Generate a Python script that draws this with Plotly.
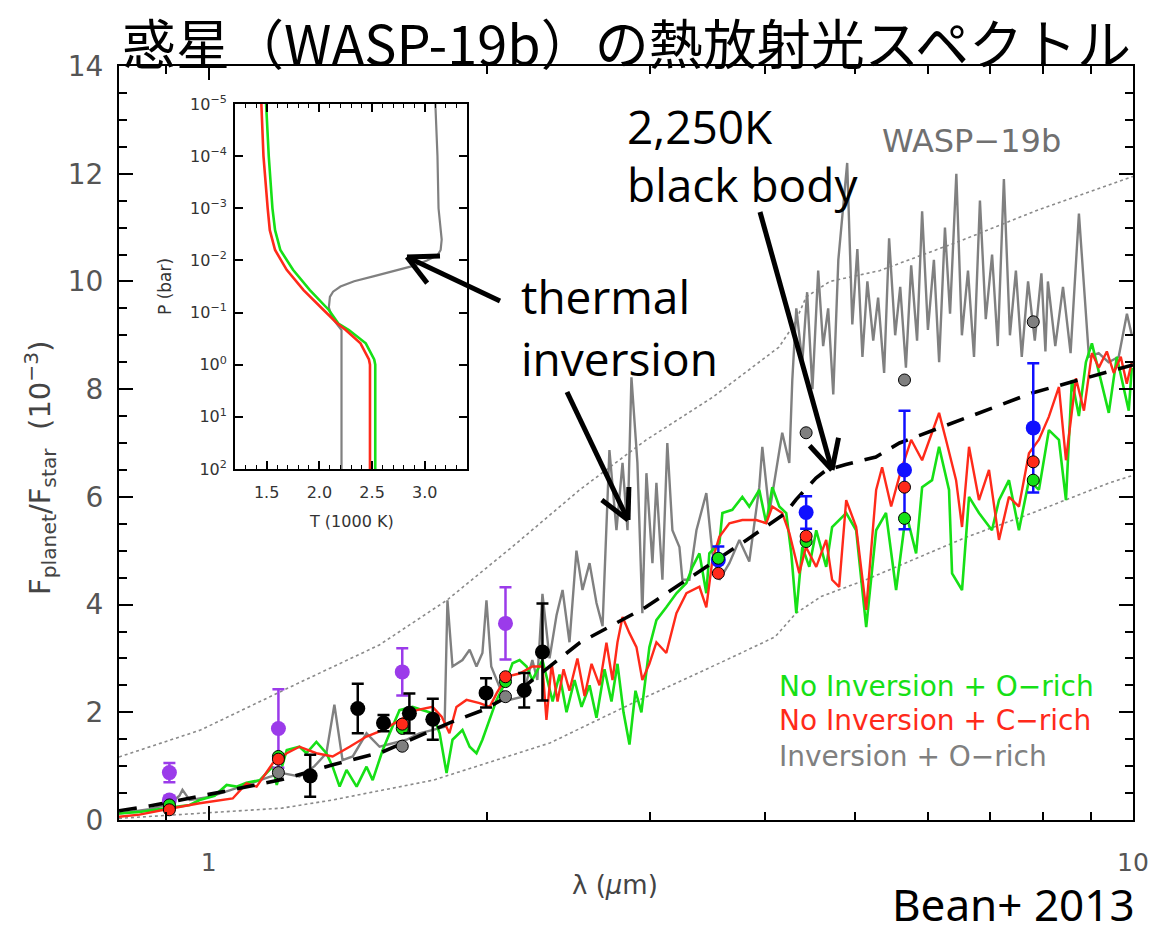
import math
import plotly.graph_objects as go

# ---------------- model spectra: wavelength (micron), Fp/Fs (1e-3) ----------------
wl_green = [0.800, 0.842, 0.901, 0.954, 0.978, 1.015, 1.046, 1.072, 1.099, 1.136, 1.173, 1.185,
            1.215, 1.254, 1.276, 1.308, 1.341, 1.362, 1.386, 1.410, 1.446, 1.482, 1.505, 1.543,
            1.570, 1.609, 1.662, 1.704, 1.747, 1.778, 1.809, 1.836, 1.882, 1.916, 1.949, 1.978,
            2.014, 2.049, 2.100, 2.132, 2.170, 2.208, 2.240, 2.297, 2.356, 2.397, 2.439, 2.488,
            2.532, 2.583, 2.628, 2.681, 2.728, 2.769, 2.811, 2.853, 2.896, 2.939, 2.998, 3.051,
            3.127, 3.207, 3.288, 3.338, 3.396, 3.455, 3.481, 3.569, 3.596, 3.686, 3.779, 3.845,
            3.942, 4.011, 4.072, 4.143, 4.216, 4.269, 4.323, 4.388, 4.465, 4.543, 4.657, 4.726,
            4.895, 5.018, 5.145, 5.274, 5.405, 5.543, 5.682, 5.826, 5.914, 6.062, 6.169, 6.324,
            6.372, 6.532, 6.647, 6.814, 7.038, 7.162, 7.342, 7.527, 7.717, 7.911, 8.110, 8.315,
            8.462, 8.588, 8.739, 8.893, 9.027, 9.184, 9.415, 9.604, 9.775, 9.895, 9.970]
fp_green = [0.12, 0.15, 0.22, 0.28, 0.37, 0.45, 0.65, 0.62, 0.69, 0.74, 0.99, 0.65,
            1.30, 1.36, 1.24, 1.45, 1.24, 0.99, 0.62, 0.93, 0.62, 0.99, 0.74, 1.30,
            1.61, 2.04, 2.10, 2.04, 1.98, 1.61, 0.87, 1.49, 1.67, 1.36, 1.24, 1.49,
            1.86, 2.23, 2.60, 2.91, 2.97, 2.85, 2.60, 2.97, 2.20, 2.70, 2.00, 2.60,
            2.10, 2.50, 1.90, 2.80, 2.20, 2.90, 2.00, 1.40, 2.40, 2.00, 3.21, 3.71,
            3.95, 4.21, 4.40, 4.70, 4.95, 4.21, 4.95, 5.14, 5.70, 5.76, 6.00, 5.82,
            6.13, 5.51, 6.18, 5.82, 5.70, 4.95, 3.84, 5.07, 4.70, 5.38, 4.70, 5.44,
            5.70, 5.38, 3.58, 5.38, 5.70, 4.27, 5.70, 4.95, 6.18, 6.31, 6.93, 6.13,
            4.58, 4.27, 6.00, 5.70, 5.38, 5.94, 6.31, 5.38, 6.31, 6.13, 7.24, 7.06,
            5.94, 8.17, 7.50, 8.50, 8.85, 8.30, 7.56, 8.60, 8.00, 7.60, 8.40]

wl_red = [0.800, 0.842, 0.901, 0.978, 1.062, 1.099, 1.127, 1.173, 1.215, 1.254, 1.308, 1.362,
          1.421, 1.482, 1.543, 1.609, 1.679, 1.747, 1.787, 1.822, 1.854, 1.901, 1.964, 2.014,
          2.049, 2.100, 2.170, 2.240, 2.297, 2.320, 2.350, 2.385, 2.421, 2.457, 2.506, 2.551,
          2.596, 2.648, 2.694, 2.735, 2.769, 2.804, 2.853, 2.903, 2.946, 2.998, 3.051, 3.127,
          3.207, 3.288, 3.396, 3.455, 3.508, 3.569, 3.659, 3.779, 3.913, 4.011, 4.072, 4.174,
          4.248, 4.355, 4.428, 4.543, 4.657, 4.726, 4.810, 4.895, 5.018, 5.145, 5.274, 5.353,
          5.475, 5.613, 5.755, 5.914, 6.062, 6.169, 6.276, 6.436, 6.532, 6.647, 6.814, 6.986,
          7.162, 7.342, 7.527, 7.717, 7.911, 8.110, 8.315, 8.462, 8.675, 8.850, 9.027, 9.184,
          9.369, 9.532, 9.700, 9.846, 9.970]
fp_red = [0.06, 0.10, 0.20, 0.31, 0.40, 0.68, 0.62, 1.05, 1.24, 1.36, 1.24, 1.18,
          1.36, 1.55, 1.67, 1.86, 2.04, 2.10, 1.92, 1.61, 2.10, 2.23, 2.17, 2.10,
          2.35, 2.66, 2.72, 2.85, 2.85, 1.86, 2.90, 2.20, 2.80, 2.40, 3.00, 2.30,
          2.90, 2.50, 3.29, 2.60, 3.30, 3.77, 3.47, 3.21, 2.60, 2.90, 3.30, 3.10,
          3.84, 4.21, 4.33, 3.95, 4.83, 5.26, 5.51, 5.57, 5.57, 5.51, 5.82, 5.70,
          5.33, 4.58, 5.07, 4.70, 5.20, 4.46, 4.33, 5.94, 5.44, 3.90, 6.13, 6.55,
          5.82, 6.50, 7.06, 6.68, 7.19, 7.56, 7.06, 6.31, 5.44, 6.93, 5.94, 6.50,
          5.20, 6.00, 5.82, 6.81, 7.06, 7.49, 8.04, 6.68, 8.20, 7.60, 8.67, 8.40,
          8.70, 8.30, 8.60, 8.10, 8.50]

wl_gray = [0.800, 0.863, 0.907, 0.930, 0.937, 0.954, 0.978, 1.002, 1.054, 1.107, 1.164, 1.202,
           1.254, 1.302, 1.341, 1.368, 1.396, 1.432, 1.482, 1.531, 1.582, 1.637, 1.691, 1.747,
           1.800, 1.813, 1.836, 1.882, 1.916, 1.949, 1.978, 1.998, 2.022, 2.064, 2.116, 2.186,
           2.240, 2.268, 2.297, 2.338, 2.379, 2.415, 2.457, 2.500, 2.538, 2.583, 2.628, 2.668,
           2.714, 2.762, 2.804, 2.839, 2.867, 2.910, 2.946, 2.976, 3.021, 3.051, 3.097, 3.135,
           3.175, 3.231, 3.255, 3.312, 3.371, 3.455, 3.508, 3.569, 3.659, 3.751, 3.845, 3.942,
           3.972, 4.042, 4.174, 4.248, 4.280, 4.323, 4.388, 4.441, 4.500, 4.565, 4.622, 4.680,
           4.740, 4.800, 4.907, 4.970, 5.033, 5.097, 5.160, 5.236, 5.300, 5.380, 5.447, 5.530,
           5.600, 5.680, 5.755, 5.840, 5.914, 6.000, 6.090, 6.170, 6.260, 6.340, 6.440, 6.530,
           6.630, 6.730, 6.830, 6.930, 7.040, 7.140, 7.250, 7.360, 7.470, 7.580, 7.700, 7.830,
           7.960, 8.040, 8.090, 8.240, 8.400, 8.560, 8.740, 8.960, 9.180, 9.410, 9.650, 9.850,
           9.970]
fp_gray = [0.12, 0.20, 0.30, 0.45, 0.56, 0.37, 0.40, 0.43, 0.55, 0.68, 0.80, 0.87,
           0.81, 1.00, 1.24, 2.14, 1.11, 1.18, 1.61, 1.36, 1.43, 1.49, 1.61, 1.67,
           1.73, 4.08, 2.85, 2.97, 3.16, 2.85, 3.10, 4.08, 2.85, 2.47, 2.23, 2.29,
           2.97, 2.60, 4.20, 3.00, 3.80, 4.27, 3.30, 5.00, 4.27, 4.77, 4.03, 3.60,
           6.87, 5.38, 6.63, 5.38, 8.22, 6.63, 3.84, 6.44, 4.77, 6.26, 4.46, 7.00,
           5.38, 5.07, 4.46, 4.46, 5.38, 6.07, 4.95, 4.46, 4.77, 5.20, 4.80, 6.18,
           6.93, 5.70, 7.19, 6.63, 8.17, 9.50, 8.50, 9.80, 8.00, 10.2, 8.80, 9.50,
           7.90, 10.4, 12.2, 9.20, 10.6, 8.60, 10.0, 8.90, 9.70, 8.30, 10.8, 9.00,
           9.90, 8.40, 10.3, 8.90, 11.3, 9.10, 10.4, 8.50, 11.0, 9.40, 12.0, 9.00,
           10.2, 8.60, 11.5, 9.30, 10.5, 8.80, 11.9, 9.00, 10.2, 8.60, 10.0, 8.90,
           10.15, 8.70, 10.0, 8.80, 9.90, 8.67, 11.26, 8.60, 8.67, 8.50, 8.60, 9.40,
           9.00]

# 2,250 K black body and the two dotted envelopes
wl_bb = [0.80, 0.863, 1.06, 1.20, 1.36, 1.54, 1.82, 1.98, 2.17, 2.52, 2.97, 3.39, 3.82,
         4.21, 4.32, 4.54, 4.66, 4.89, 5.27, 5.59, 6.60, 7.78, 10.0]
fp_bb = [0.17, 0.26, 0.56, 0.75, 1.02, 1.26, 1.80, 2.04, 2.41, 3.29, 3.95, 4.60, 5.20,
         5.70, 5.95, 6.35, 6.50, 6.60, 6.74, 7.00, 7.46, 7.93, 8.45]

wl_hi = [0.80, 0.98, 1.25, 1.53, 1.81, 2.13, 2.52, 2.97, 3.51, 4.14, 4.30, 4.43, 4.70, 5.32,
         6.50, 7.90, 10.0]
fp_hi = [1.17, 1.67, 2.54, 3.25, 4.08, 5.07, 6.13, 7.05, 7.85, 8.78, 9.20, 9.71, 10.0, 10.2,
         10.75, 11.33, 11.95]

wl_lo = [0.80, 1.00, 1.20, 1.36, 1.75, 2.34, 2.90, 3.63, 4.10, 4.32, 4.60, 5.14, 6.60, 7.78,
         9.43, 10.0]
fp_lo = [0.03, 0.13, 0.22, 0.37, 0.74, 1.43, 2.20, 2.97, 3.40, 3.84, 4.15, 4.46, 5.25, 5.70,
         6.26, 6.40]

# ---------------- observations ----------------
wl_purple = [0.907, 0.907, 1.19, 1.62, 2.095]
fp_purple = [0.88, 0.37, 1.70, 2.75, 3.65]
er_purple = [0.18, 0.08, 0.73, 0.44, 0.67]

wl_black = [1.288, 1.45, 1.546, 1.649, 1.748, 1.996, 2.195, 2.297]
fp_black = [0.82, 2.07, 1.80, 1.98, 1.87, 2.36, 2.41, 3.12]
er_black = [0.39, 0.46, 0.15, 0.37, 0.38, 0.27, 0.32, 0.90]

wl_blue = [3.56, 4.43, 5.66, 7.80]
fp_blue = [4.83, 5.71, 6.50, 7.28]
er_blue = [0.25, 0.30, 1.10, 1.20]

# band-integrated model values
wl_band = [0.907, 1.19, 1.62, 2.095, 3.56, 4.43, 5.66, 7.80]
band_green = [0.28, 1.18, 1.70, 2.57, 4.86, 5.17, 5.60, 6.31]
band_red = [0.19, 1.13, 1.78, 2.66, 4.58, 5.27, 6.18, 6.65]
wl_band_gray = [0.907, 1.19, 1.62, 2.095, 4.43, 5.66, 7.80]
band_gray = [0.22, 0.88, 1.37, 2.29, 7.19, 8.17, 9.25]

# ---------------- P-T profiles (inset) ----------------
p_gray = [1e2, 1e1, 1e0, 10**-0.665, 10**-0.9, 10**-1.1, 10**-1.3, 10**-1.4, 10**-1.5, 10**-1.6,
          10**-1.7, 10**-1.8, 10**-1.9, 10**-2.0, 10**-2.1, 10**-2.2, 10**-2.4, 1e-3, 1e-4, 1e-5]
t_gray = [2.21, 2.21, 2.21, 2.21, 2.12, 2.09, 2.10, 2.13, 2.20, 2.33,
          2.52, 2.71, 2.90, 3.02, 3.12, 3.15, 3.16, 3.13, 3.12, 3.10]
p_red = [1e2, 1e1, 1e0, 10**-0.1, 10**-0.41, 10**-0.665, 10**-0.79, 10**-1.05, 10**-1.43,
         10**-1.82, 10**-2.2, 10**-2.58, 1e-3, 1e-4, 1e-5]
t_red = [2.48, 2.48, 2.48, 2.47, 2.39, 2.25, 2.17, 2.04, 1.85, 1.69, 1.58, 1.53, 1.51, 1.47, 1.45]
p_green = [1e2, 1e1, 1e0, 10**-0.1, 10**-0.41, 10**-0.665, 10**-0.79, 10**-1.05, 10**-1.43,
           10**-1.82, 10**-2.2, 10**-2.58, 1e-3, 1e-4, 1e-5]
t_green = [2.53, 2.53, 2.53, 2.52, 2.44, 2.28, 2.18, 2.09, 1.91, 1.75, 1.63, 1.58, 1.555, 1.52, 1.495]

# ---------------- styling ----------------
GREEN = "#16e016"
RED = "#ff2a1a"
GRAY = "#808080"
PURPLE = "#9b3bea"
BLUE = "#1010ff"
TICKFONT = "DejaVu Sans"
TEXTFONT = "Open Sans"

fig = go.Figure()


def line(x, y, color, width=2.4, dash=None, xa="x", ya="y"):
    fig.add_trace(go.Scatter(x=x, y=y, mode="lines", xaxis=xa, yaxis=ya,
                             line=dict(color=color, width=width, dash=dash),
                             hoverinfo="skip", showlegend=False))


line(wl_hi, fp_hi, "#8a8a8a", 1.6, "dot")
line(wl_lo, fp_lo, "#8a8a8a", 1.6, "dot")
line(wl_gray, fp_gray, GRAY, 2.4)
line(wl_green, fp_green, GREEN, 2.6)
line(wl_red, fp_red, RED, 2.4)
line(wl_bb, fp_bb, "black", 3.6, "18px,12px")


def points(x, y, err, color, size=15):
    fig.add_trace(go.Scatter(
        x=x, y=y, mode="markers", showlegend=False, hoverinfo="skip",
        marker=dict(color=color, size=size, line=dict(width=0)),
        error_y=dict(type="data", array=err, visible=True, color=color,
                     thickness=2.5, width=6)))


def band(x, y, color):
    fig.add_trace(go.Scatter(
        x=x, y=y, mode="markers", showlegend=False, hoverinfo="skip",
        marker=dict(color=color, size=12, line=dict(color="black", width=1))))


points(wl_purple, fp_purple, er_purple, PURPLE)
points(wl_blue, fp_blue, er_blue, BLUE)
band(wl_band_gray, band_gray, GRAY)
band(wl_band, band_green, GREEN)
band(wl_band, band_red, RED)
points(wl_black, fp_black, er_black, "black")

# inset temperature-pressure profiles
line(t_gray, p_gray, GRAY, 2.2, None, "x2", "y2")
line(t_green, p_green, GREEN, 2.6, None, "x2", "y2")
line(t_red, p_red, RED, 2.6, None, "x2", "y2")

# ---------------- layout ----------------
L, R, T, B = 119, 1133, 66, 820
W, H = R - L, B - T


def px(x, y):
    return (x - L) / W, (B - y) / H


axis_common = dict(showline=True, linecolor="black", linewidth=2.2, mirror="allticks",
                   ticks="inside", tickcolor="black", showgrid=False, zeroline=False)

fig.update_layout(
    width=1173, height=934,
    margin=dict(l=L, r=1173 - R, t=T, b=934 - B),
    paper_bgcolor="white", plot_bgcolor="white",
    xaxis=dict(type="log", range=[math.log10(0.8), 1.0], domain=[0, 1], anchor="y",
               tickvals=[1, 10], ticktext=["1", "10"], ticklen=14, tickwidth=2,
               ticklabelstandoff=19,
               tickfont=dict(family=TICKFONT, size=25, color="#555"),
               minor=dict(tickvals=[0.8, 0.9, 2, 3, 4, 5, 6, 7, 8, 9], ticklen=8,
                          tickwidth=2, ticks="inside", tickcolor="black"),
               **axis_common),
    yaxis=dict(range=[0, 14], domain=[0, 1], anchor="x",
               tickvals=list(range(0, 15, 2)), ticklen=14, tickwidth=2,
               ticklabelstandoff=8,
               tickfont=dict(family=TICKFONT, size=28, color="#555"),
               minor=dict(dtick=0.5, ticklen=8, tickwidth=2, ticks="inside",
                          tickcolor="black"),
               **axis_common),
    xaxis2=dict(range=[1.2, 3.4], domain=[px(235, 0)[0], px(467, 0)[0]], anchor="y2",
                tickvals=[1.5, 2.0, 2.5, 3.0], ticktext=["1.5", "2.0", "2.5", "3.0"],
                ticklen=8, tickwidth=1.5, ticklabelstandoff=8,
                tickfont=dict(family=TICKFONT, size=16, color="#333"),
                minor=dict(dtick=0.1, ticklen=4, tickwidth=1.2, ticks="inside",
                           tickcolor="black"),
                showline=True, linecolor="black", linewidth=1.8, mirror="allticks",
                ticks="inside", tickcolor="black", showgrid=False, zeroline=False),
    yaxis2=dict(type="log", range=[2, -5], domain=[px(0, 469)[1], px(0, 104)[1]],
                anchor="x2",
                tickvals=[1e-5, 1e-4, 1e-3, 1e-2, 1e-1, 1e0, 1e1, 1e2],
                ticktext=["10<sup>−5</sup>", "10<sup>−4</sup>", "10<sup>−3</sup>",
                          "10<sup>−2</sup>", "10<sup>−1</sup>", "10<sup>0</sup>",
                          "10<sup>1</sup>", "10<sup>2</sup>"],
                ticklen=8, tickwidth=1.5, ticklabelstandoff=3,
                tickfont=dict(family=TICKFONT, size=16, color="#333"),
                showline=True, linecolor="black", linewidth=1.8, mirror="allticks",
                ticks="inside", tickcolor="black", showgrid=False, zeroline=False),
)

annotations = []


def text(s, x, y, size, color="black", family=TEXTFONT, xanchor="left",
         yanchor="middle", angle=0):
    xp, yp = px(x, y)
    annotations.append(dict(text=s, x=xp, y=yp, xref="paper", yref="paper",
                            xanchor=xanchor, yanchor=yanchor, showarrow=False,
                            textangle=angle,
                            font=dict(family=family, size=size, color=color)))


text("惑星（WASP-19b）の熱放射光スペクトル", 626, 41, 54, family="Noto Sans CJK JP",
     xanchor="center")
text("Bean+ 2013", 1013, 904, 44, family="Noto Sans", xanchor="center")
text("λ (<i>μ</i>m)", 615, 885, 26, color="#444", family=TICKFONT, xanchor="center")
text("F<sub>planet</sub>/F<sub>star</sub>  (10<sup>−3</sup>)", 40, 468, 29, color="#444",
     family=TICKFONT, xanchor="center", angle=-90)
text("P (bar)", 165, 287, 17, color="#333", family=TICKFONT, xanchor="center", angle=-90)
text("T (1000 K)", 351, 521, 16, color="#333", family=TICKFONT, xanchor="center")
text("WASP−19b", 880, 141, 32, color="#707070", family=TICKFONT)
text("No Inversion + O−rich", 777, 686, 28, color=GREEN, family=TICKFONT)
text("No Inversion + C−rich", 777, 720, 28, color=RED, family=TICKFONT)
text("Inversion + O−rich", 777, 756, 28, color=GRAY, family=TICKFONT)
text("thermal", 519, 296, 46)
text("inversion", 519, 358, 46)
text("2,250K", 625, 126, 46)
text("black body", 625, 184, 46)

fig.update_layout(annotations=annotations)

# open-headed arrows
shapes = []


def arrow(x0, y0, x1, y1, head=33, half=27, width=5):
    def seg(a, b, c, d):
        pa, pb = px(a, b), px(c, d)
        shapes.append(dict(type="line", xref="paper", yref="paper",
                           x0=pa[0], y0=pa[1], x1=pb[0], y1=pb[1],
                           line=dict(color="black", width=width)))
    seg(x0, y0, x1, y1)
    ang = math.atan2(y0 - y1, x0 - x1)
    for s in (-1, 1):
        a = ang + s * math.radians(half)
        seg(x1, y1, x1 + head * math.cos(a), y1 + head * math.sin(a))


arrow(500, 301, 407, 257)
arrow(567, 392, 628, 520)
arrow(760, 212, 832, 470)

fig.update_layout(shapes=shapes)

fig.write_html("out.html")
